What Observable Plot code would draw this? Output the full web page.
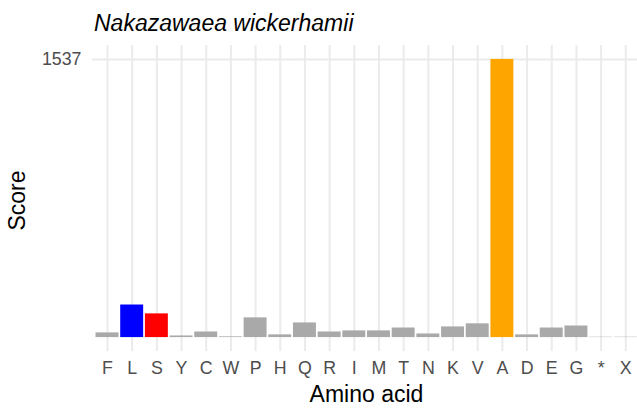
<!DOCTYPE html>
<html>
<head>
<meta charset="utf-8">
<script src="https://cdn.jsdelivr.net/npm/d3@7"></script>
<script src="https://cdn.jsdelivr.net/npm/@observablehq/plot@0.6"></script>
<style>
  html, body { margin: 0; padding: 0; background: #fff; }
  svg { display: block; }
</style>
</head>
<body>
<div id="chart"></div>
<script>
// ---- data ----
const aminoAcids = ["F","L","S","Y","C","W","P","H","Q","R","I","M","T","N","K","V","A","D","E","G","*","X"];
const scores     = [26,180,131,9,31,4,109,15,81,31,37,37,53,20,59,76,1537,15,53,64,2,2];
const highlightAcids  = ["L","S","A"];
const highlightColors = ["#0000ff","#ff0000","#ffa500"];
const otherColor = "#a9a9a9";
const yTicks = [1537];
const titleText = "Nakazawaea wickerhamii";
const xLabel = "Amino acid";
const yLabel = "Score";

// ---- build table ----
const data = aminoAcids.map((aa, i) => ({
  aa,
  score: scores[i],
  color: highlightAcids.includes(aa) ? highlightColors[highlightAcids.indexOf(aa)] : otherColor
}));

const W = 637, H = 410;
const mTop = 45, mBottom = 59, mLeft = 92, mRight = 0;
const yMax = d3.max(scores);
const font = "'Liberation Sans', Arial, Helvetica, sans-serif";
const grid = "#ebebeb";

const chart = Plot.plot({
  width: W,
  height: H,
  marginTop: mTop,
  marginBottom: mBottom,
  marginLeft: mLeft,
  marginRight: mRight,
  style: { fontFamily: font, color: "#4d4d4d", background: "#fff", overflow: "visible" },
  x: { domain: aminoAcids, range: [92.2, 640.1], paddingInner: 0.07, paddingOuter: 0.135, round: false, axis: null },
  y: { domain: [-0.05 * yMax, 1.05 * yMax], axis: null },
  color: { type: "identity" },
  marks: [
    Plot.ruleX(aminoAcids, { x: d => d, stroke: grid, strokeWidth: 2 }),
    Plot.ruleY(yTicks, { y: d => d, stroke: grid, strokeWidth: 2 }),
    Plot.barY(data, { x: "aa", y: "score", fill: "color" }),
    Plot.axisX({ tickSize: 0, tickPadding: 10, fontSize: 17.8, label: null, fill: "#4d4d4d" }),
    Plot.axisY({ ticks: yTicks, tickFormat: d => String(d), tickSize: 0, tickPadding: 11, fontSize: 17.8, label: null, fill: "#4d4d4d" }),
    Plot.text([titleText], { text: d => d, frameAnchor: "top-left", textAnchor: "start", lineAnchor: "middle", dx: 1.5, dy: -21.5, fontSize: 23, fontStyle: "italic", fill: "#000" }),
    Plot.text([xLabel], { text: d => d, frameAnchor: "bottom", textAnchor: "middle", lineAnchor: "middle", dx: 1.5, dy: 43.5, fontSize: 23, fill: "#000" }),
    Plot.text([yLabel], { text: d => d, frameAnchor: "left", textAnchor: "middle", lineAnchor: "middle", rotate: -90, dx: -74.5, dy: 2, fontSize: 23, fill: "#000" })
  ]
});

document.getElementById("chart").appendChild(chart);
</script>
</body>
</html>
